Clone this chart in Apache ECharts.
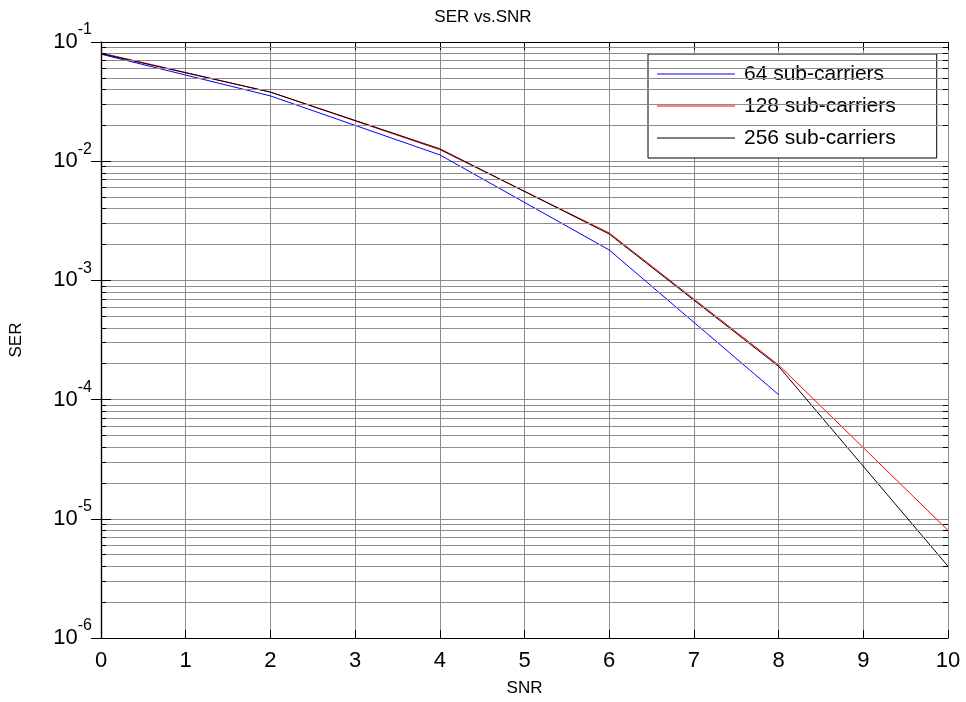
<!DOCTYPE html>
<html><head><meta charset="utf-8">
<script src="https://cdn.jsdelivr.net/npm/echarts@6/dist/echarts.min.js"></script>
<style>html,body{margin:0;padding:0;background:#fff}#c{width:966px;height:702px}</style>
</head><body><div id="c"></div>
<script>
// ---- data ----
const snr = [0, 2, 4, 6, 8, 10];
const ser64 = [0.079, 0.0353, 0.0113, 0.0018, 0.00011, null];
const ser128 = [0.081, 0.038, 0.0125, 0.0025, 0.000195, 0.000008];
const ser256 = [0.080, 0.038, 0.0127, 0.00245, 0.00019, 0.000004];
const seriesNames = ['64 sub-carriers', '128 sub-carriers', '256 sub-carriers'];
const seriesColors = ['#0000ff', '#ff0000', '#000000'];
const xTickLabels = ['0','1','2','3','4','5','6','7','8','9','10'];
const yDecadeExps = [-6, -5, -4, -3, -2, -1];
const titleText = 'SER vs.SNR';
const xName = 'SNR';
const yName = 'SER';

// ---- build ----
const FONT = 'Arial, "Liberation Sans", sans-serif';
function pairs(ys) { return snr.map((x, i) => [x, ys[i]]); }

// minor grid positions (axis structure, 2..9 x 10^k)
const minorVals = [];
for (let e = yDecadeExps[0]; e < yDecadeExps[yDecadeExps.length - 1]; e++) {
  for (let m = 2; m <= 9; m++) minorVals.push(m * Math.pow(10, e));
}
const gridColor = '#8c8c8c';
const minorGrid = minorVals.map(v => [{ coord: [0, v] }, { coord: [10, v] }]);
const tickLen = 0.06;
const minorTicks = [];
minorVals.forEach(v => {
  minorTicks.push([{ coord: [0, v] }, { coord: [tickLen, v] }]);
  minorTicks.push([{ coord: [10, v] }, { coord: [10 - tickLen, v] }]);
});

const chart = echarts.init(document.getElementById('c'), null, { renderer: 'canvas' });
const axisLineStyle = { color: '#000', width: 1.2 };
chart.setOption({
  animation: false,
  backgroundColor: '#fff',
  title: {
    text: titleText, left: 'center', top: 4,
    textStyle: { fontSize: 17, fontWeight: 'normal', fontFamily: FONT, color: '#000' }
  },
  grid: { left: 99, right: 18, top: 42, bottom: 63, containLabel: false },
  legend: {
    orient: 'vertical', left: 648, top: 54,
    backgroundColor: '#fff', borderColor: '#000', borderWidth: 1,
    padding: [8, 41, 8, 9],
    icon: 'rect', itemWidth: 78, itemHeight: 1, itemGap: 8,
    textStyle: { fontSize: 21, fontFamily: FONT, color: '#000', padding: [0, 0, 0, 4], lineHeight: 24 },
    data: seriesNames
  },
  xAxis: [{
    type: 'value', min: 0, max: 10, interval: 1, position: 'bottom',
    axisLine: { lineStyle: axisLineStyle },
    axisTick: { inside: true, length: 8, lineStyle: { color: '#000' } },
    axisLabel: { fontSize: 22, fontFamily: FONT, color: '#000', margin: 12,
      formatter: v => xTickLabels[Math.round(v)] },
    splitLine: { show: true, lineStyle: { color: gridColor, width: 1 } },
    name: xName, nameLocation: 'middle', nameGap: 42,
    nameTextStyle: { fontSize: 17, fontFamily: FONT, color: '#000' }
  }, {
    type: 'value', min: 0, max: 10, interval: 1, position: 'top',
    axisLine: { lineStyle: axisLineStyle },
    axisTick: { inside: true, length: 8, lineStyle: { color: '#000' } },
    axisLabel: { show: false }, splitLine: { show: false }
  }],
  yAxis: [{
    type: 'log', logBase: 10, min: 1e-6, max: 1e-1, position: 'left',
    axisLine: { lineStyle: axisLineStyle },
    axisTick: { inside: true, length: 10, lineStyle: { color: '#000' } },
    axisLabel: {
      margin: 9,
      formatter: v => '{b|10}{s|' + Math.round(Math.log10(v)) + '}',
      rich: {
        b: { fontSize: 22, fontFamily: FONT, color: '#000', lineHeight: 40 },
        s: { fontSize: 16, fontFamily: FONT, color: '#000', lineHeight: 15, verticalAlign: 'top' }
      }
    },
    splitLine: { show: true, lineStyle: { color: gridColor, width: 1 } },
    name: yName, nameLocation: 'middle', nameGap: 76, nameRotate: 90,
    nameTextStyle: { fontSize: 17, fontFamily: FONT, color: '#000' }
  }, {
    type: 'log', logBase: 10, min: 1e-6, max: 1e-1, position: 'right',
    axisLine: { lineStyle: axisLineStyle },
    axisTick: { inside: true, length: 10, lineStyle: { color: '#000' } },
    axisLabel: { show: false }, splitLine: { show: false }
  }],
  series: [
    {
      type: 'line', name: '__grid', data: [], silent: true,
      markLine: {
        silent: true, symbol: 'none', label: { show: false }, animation: false,
        lineStyle: { color: gridColor, width: 1, type: 'solid' },
        data: minorGrid
      }
    },
    {
      type: 'line', name: '__ticks', data: [], silent: true,
      markLine: {
        silent: true, symbol: 'none', label: { show: false }, animation: false,
        lineStyle: { color: '#000', width: 1, type: 'solid' },
        data: minorTicks
      }
    },
    { type: 'line', name: seriesNames[0], data: pairs(ser64), symbol: 'none', connectNulls: false,
      lineStyle: { color: seriesColors[0], width: 1 }, itemStyle: { color: seriesColors[0] } },
    { type: 'line', name: seriesNames[1], data: pairs(ser128), symbol: 'none',
      lineStyle: { color: seriesColors[1], width: 1 }, itemStyle: { color: seriesColors[1] } },
    { type: 'line', name: seriesNames[2], data: pairs(ser256), symbol: 'none',
      lineStyle: { color: seriesColors[2], width: 1 }, itemStyle: { color: seriesColors[2] } }
  ]
});
</script></body></html>
